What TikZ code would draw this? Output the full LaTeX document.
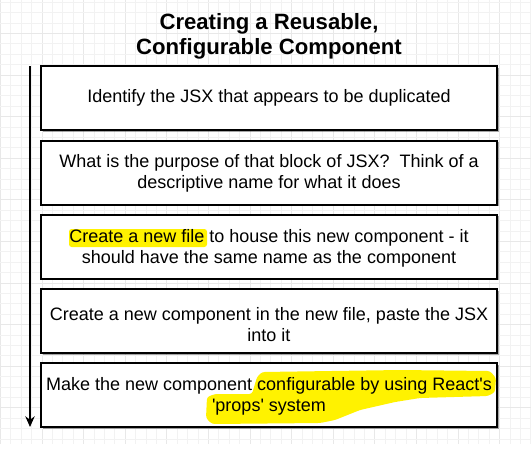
\documentclass[tikz,border=0pt]{standalone}
\usepackage{fontspec}
\setmainfont{Liberation Sans}
\usetikzlibrary{arrows.meta,shadows}
\begin{document}
\begin{tikzpicture}[x=0.75pt,y=-0.75pt,
  minorgrid/.style={draw=black!5, line width=0.5pt},
  majorgrid/.style={draw=black!9, line width=0.6pt},
  stepbox/.style={draw=black, line width=1.5pt, fill=white, minimum width=342pt, minimum height=48pt, inner sep=0pt,
     drop shadow={shadow xshift=1.2pt, shadow yshift=-1.2pt, fill=black, opacity=0.35}},
  steptext/.style={align=center, font=\fontsize{13.5}{15.9}\selectfont, inner sep=0pt},
  titletext/.style={align=center, font=\fontsize{16.6}{18.9}\selectfont\bfseries, inner sep=0pt},
  marker/.style={fill=yellow, rounded corners=2pt},
  flow/.style={draw=black, line width=1.1pt, -{Stealth[length=8pt,width=7pt]}}]
\useasboundingbox (0,0) rectangle (531,451);
\fill[white] (0,0) rectangle (531,451);
% grid
\foreach \k in {0,...,51} {
  \pgfmathsetmacro{\gx}{0.4+10.4*\k}
  \pgfmathtruncatemacro{\m}{mod(\k,4)}
  \ifnum\m=0 \draw[majorgrid] (\gx,0) -- (\gx,444); \else \draw[minorgrid] (\gx,0) -- (\gx,444); \fi
}
\foreach \k in {0,...,42} {
  \pgfmathsetmacro{\gy}{2.2+10.4*\k}
  \pgfmathtruncatemacro{\m}{mod(\k,4)}
  \ifnum\m=3 \draw[majorgrid] (0,\gy) -- (531,\gy); \else \draw[minorgrid] (0,\gy) -- (531,\gy); \fi
}
% title
\node[titletext] (title) at (269,36.5) {Creating a Reusable,\\Configurable Component};
% boxes
\node[stepbox] (b1) at (269,98) {};
\node[stepbox] (b2) at (269,172.5) {};
\node[stepbox] (b3) at (269,246.5) {};
\node[stepbox] (b4) at (269,321) {};
\node[stepbox] (b5) at (269,395) {};
% highlights
\fill[marker] (69,229) rectangle (207,247);
\fill[marker] (257,377) -- (262,372) -- (400,370) -- (490,371) -- (496,378) -- (495,392) -- (488,396)
  -- (420,398) -- (395,402) -- (360,410) -- (335,420) -- (320,423) -- (212,424) -- (206,418)
  -- (207,397) -- (215,394) -- (252,394) -- cycle;
% texts
\node[steptext] (t1) at (b1.center) {Identify the JSX that appears to be duplicated};
\node[steptext] (t2) at ([yshift=-0.5pt]b2.center) {What is the purpose of that block of JSX?\ \ Think of a\\descriptive name for what it does};
\node[steptext] (t3) at ([yshift=-1.5pt]b3.center) {Create a new file to house this new component - it\\should have the same name as the component};
\node[steptext] (t4) at ([yshift=-2.5pt]b4.center) {Create a new component in the new file, paste the JSX\\into it};
\node[steptext] (t5) at ([yshift=-1pt]b5.center) {Make the new component configurable by using React\textquotesingle s\\\textquotesingle props\textquotesingle{} system};
% flow arrow
\coordinate (arrtop) at (30,66);
\coordinate (arrbot) at (30,427);
\draw[flow] (arrtop) -- (arrbot);
\end{tikzpicture}
\end{document}
